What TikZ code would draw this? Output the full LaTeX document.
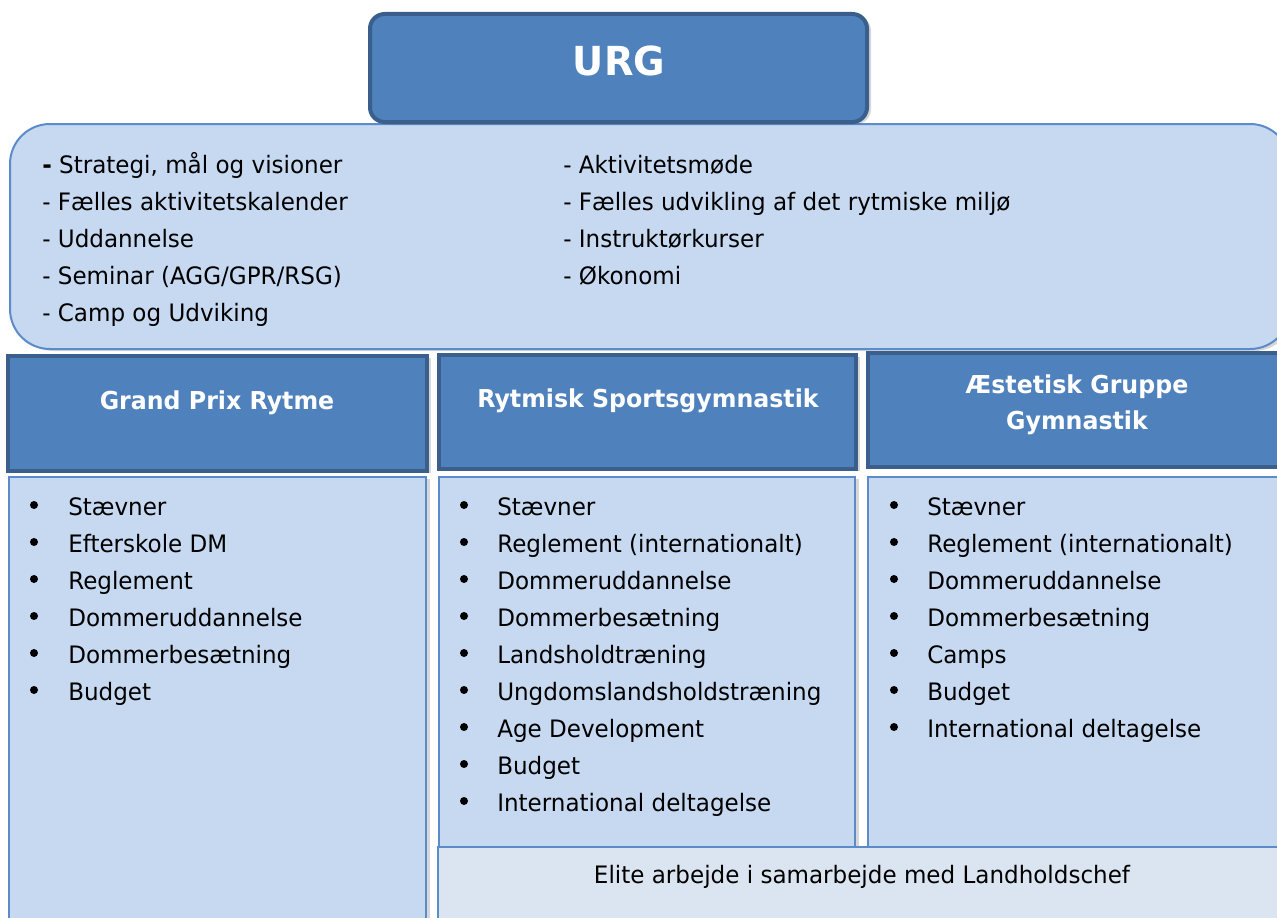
\documentclass[tikz,border=0pt]{standalone}
\usepackage{fontspec}
\setmainfont[FakeStretch=0.96]{DejaVu Sans}
\usetikzlibrary{fit,shadows}
\definecolor{hdrfill}{HTML}{4F81BD}
\definecolor{hdrdraw}{HTML}{3A5F8C}
\definecolor{lightfill}{HTML}{C6D9F1}
\definecolor{lightdraw}{HTML}{5B8BC9}
\definecolor{elitefill}{HTML}{DBE5F1}
\tikzset{
  pshadow/.style={drop shadow={shadow xshift=3pt, shadow yshift=-1.5pt, opacity=0.22, fill=black!70}},
  darkbox/.style={fill=hdrfill, draw=hdrdraw, line width=3pt, inner sep=0pt, pshadow},
  lightbox/.style={fill=lightfill, draw=lightdraw, line width=1.5pt, inner sep=0pt, pshadow},
  elitebox/.style={fill=elitefill, draw=lightdraw, line width=1.5pt, inner sep=0pt, pshadow},
  body/.style={font=\fontsize{18}{22}\selectfont, text=black, inner sep=0pt},
  hdr/.style={font=\fontsize{18.5}{27}\selectfont\bfseries, text=white, inner sep=0pt, align=center},
  bul/.style={circle, fill=black, inner sep=0pt, minimum size=6pt},
}
\begin{document}
\begin{tikzpicture}[x=0.75pt, y=-0.75pt]
\useasboundingbox (0,0) rectangle (1277,917);
\clip (0,0) rectangle (1277,917);
\fill[white] (0,0) rectangle (1277,917);

% big top box
\node[lightbox, rounded corners=30pt, fit={(10,124) (1290,349)}] (top) {};
% URG box
\node[darkbox, rounded corners=11pt, fit={(370,14) (867,122)}] (urg) {};
\node[font=\fontsize{30}{36}\selectfont\bfseries, text=white, inner sep=0pt, anchor=base] (urgt) at (619,75) {URG};

% top box text
\node[body, anchor=base west] (s0) at (42,173) {\textbf{-} Strategi, mål og visioner};
\foreach \t [count=\i] in {Fælles aktivitetskalender, Uddannelse, Seminar (AGG/GPR/RSG), Camp og Udviking}
  \node[body, anchor=base west] (s\i) at (42,173+37*\i) {- \t};
\foreach \t [count=\i from 0] in {Aktivitetsmøde, Fælles udvikling af det rytmiske miljø, Instruktørkurser, Økonomi}
  \node[body, anchor=base west] (r\i) at (563,173+37*\i) {- \t};

% content boxes
\node[lightbox, fit={(9,477) (426,930)}] (c1) {};
\node[lightbox, fit={(439,477) (855,860)}] (c2) {};
\node[lightbox, fit={(868,477) (1290,860)}] (c3) {};
\node[elitebox, fit={(438,847) (1290,930)}] (elite) {};
\node[body, anchor=base] (elitet) at (862,883) {Elite arbejde i samarbejde med Landholdschef};

% header boxes
\node[darkbox, fit={(8,356) (427,471)}] (h1) {};
\node[darkbox, fit={(439,355) (856,469)}] (h2) {};
\node[darkbox, fit={(868,353) (1290,467)}] (h3) {};
\node[hdr, anchor=base] (h1t) at (217,409) {Grand Prix Rytme};
\node[hdr, anchor=base] (h2t) at (648,407) {Rytmisk Sportsgymnastik};
\node[hdr, anchor=base] (h3t) at (1077,393) {Æstetisk Gruppe};
\node[hdr, anchor=base] (h3u) at (1077,429) {Gymnastik};

% bullet lists
\foreach \t [count=\i from 0] in {Stævner, Efterskole DM, Reglement, Dommeruddannelse, Dommerbesætning, Budget}{
  \node[bul] (ab\i) at (34,505+37*\i) {};
  \node[body, anchor=base west] (a\i) at (68,515+37*\i) {\t};
}
\foreach \t [count=\i from 0] in {Stævner, Reglement (internationalt), Dommeruddannelse, Dommerbesætning, Landsholdtræning, Ungdomslandsholdstræning, Age Development, Budget, International deltagelse}{
  \node[bul] (bb\i) at (464,505+37*\i) {};
  \node[body, anchor=base west] (b\i) at (497,515+37*\i) {\t};
}
\foreach \t [count=\i from 0] in {Stævner, Reglement (internationalt), Dommeruddannelse, Dommerbesætning, Camps, Budget, International deltagelse}{
  \node[bul] (cb\i) at (894,505+37*\i) {};
  \node[body, anchor=base west] (cc\i) at (927,515+37*\i) {\t};
}
\end{tikzpicture}
\end{document}
